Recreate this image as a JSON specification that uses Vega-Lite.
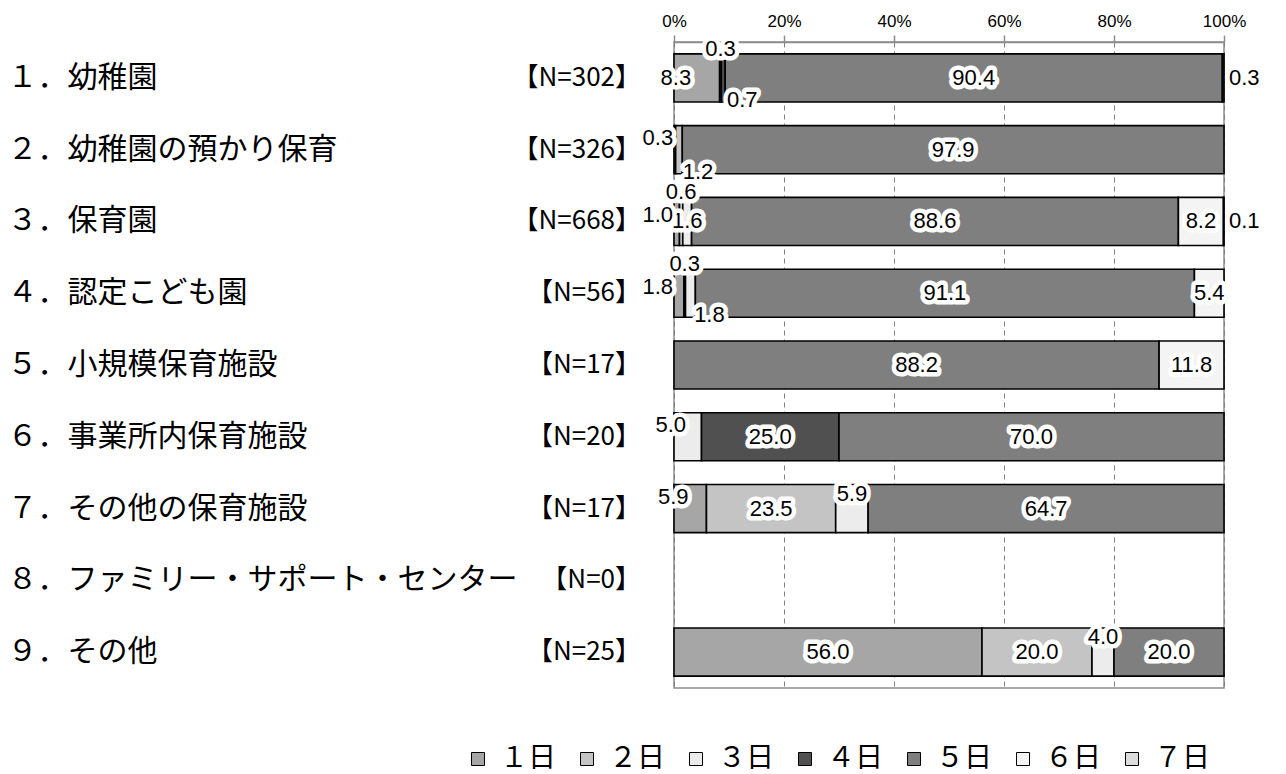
{
  "$schema": "https://vega.github.io/schema/vega-lite/v6.json",
  "width": 550,
  "height": 646,
  "autosize": {"type": "none"},
  "padding": {"left": 674, "top": 42, "right": 62, "bottom": 86},
  "background": "white",
  "config": {
    "view": {"stroke": "#8c8c8c", "strokeWidth": 1.5},
    "font": "Noto Sans CJK JP",
    "text": {"font": "Liberation Sans", "fontSize": 22, "baseline": "middle"},
    "style": {"guide-label": {"font": "Liberation Sans", "fontSize": 17, "fill": "black"}},
    "axis": {"labelFontSize": 17, "labelFont": "Liberation Sans", "labelColor": "black"},
    "axisX": {
      "grid": true,
      "gridDash": [5, 4],
      "gridColor": "#808080",
      "gridWidth": 1,
      "domainColor": "#8c8c8c",
      "domainWidth": 1.5,
      "tickColor": "#8c8c8c",
      "tickSize": 7,
      "tickWidth": 1.5,
      "labelPadding": 5,
      "labelFlush": false,
      "labelFont": "Liberation Sans",
      "labelFontSize": 17,
      "labelColor": "black"
    }
  },
  "datasets": {
    "rows": [
      {"no": 1, "item": "１．幼稚園", "n": "【N=302】"},
      {"no": 2, "item": "２．幼稚園の預かり保育", "n": "【N=326】"},
      {"no": 3, "item": "３．保育園", "n": "【N=668】"},
      {"no": 4, "item": "４．認定こども園", "n": "【N=56】"},
      {"no": 5, "item": "５．小規模保育施設", "n": "【N=17】"},
      {"no": 6, "item": "６．事業所内保育施設", "n": "【N=20】"},
      {"no": 7, "item": "７．その他の保育施設", "n": "【N=17】"},
      {"no": 8, "item": "８．ファミリー・サポート・センター", "n": "【N=0】"},
      {"no": 9, "item": "９．その他", "n": "【N=25】"}
    ],
    "bars": [
      {"no": 1, "item": "１．幼稚園", "cat": "１日", "value": 8.3},
      {"no": 1, "item": "１．幼稚園", "cat": "３日", "value": 0.3},
      {"no": 1, "item": "１．幼稚園", "cat": "４日", "value": 0.7},
      {"no": 1, "item": "１．幼稚園", "cat": "５日", "value": 90.4},
      {"no": 1, "item": "１．幼稚園", "cat": "６日", "value": 0.3},
      {"no": 2, "item": "２．幼稚園の預かり保育", "cat": "１日", "value": 0.3},
      {"no": 2, "item": "２．幼稚園の預かり保育", "cat": "２日", "value": 1.2},
      {"no": 2, "item": "２．幼稚園の預かり保育", "cat": "５日", "value": 97.9},
      {"no": 3, "item": "３．保育園", "cat": "１日", "value": 1.0},
      {"no": 3, "item": "３．保育園", "cat": "２日", "value": 0.6},
      {"no": 3, "item": "３．保育園", "cat": "３日", "value": 1.6},
      {"no": 3, "item": "３．保育園", "cat": "５日", "value": 88.6},
      {"no": 3, "item": "３．保育園", "cat": "６日", "value": 8.2},
      {"no": 3, "item": "３．保育園", "cat": "７日", "value": 0.1},
      {"no": 4, "item": "４．認定こども園", "cat": "１日", "value": 1.8},
      {"no": 4, "item": "４．認定こども園", "cat": "２日", "value": 0.3},
      {"no": 4, "item": "４．認定こども園", "cat": "３日", "value": 1.8},
      {"no": 4, "item": "４．認定こども園", "cat": "５日", "value": 91.1},
      {"no": 4, "item": "４．認定こども園", "cat": "６日", "value": 5.4},
      {"no": 5, "item": "５．小規模保育施設", "cat": "５日", "value": 88.2},
      {"no": 5, "item": "５．小規模保育施設", "cat": "６日", "value": 11.8},
      {"no": 6, "item": "６．事業所内保育施設", "cat": "３日", "value": 5.0},
      {"no": 6, "item": "６．事業所内保育施設", "cat": "４日", "value": 25.0},
      {"no": 6, "item": "６．事業所内保育施設", "cat": "５日", "value": 70.0},
      {"no": 7, "item": "７．その他の保育施設", "cat": "１日", "value": 5.9},
      {"no": 7, "item": "７．その他の保育施設", "cat": "２日", "value": 23.5},
      {"no": 7, "item": "７．その他の保育施設", "cat": "３日", "value": 5.9},
      {"no": 7, "item": "７．その他の保育施設", "cat": "５日", "value": 64.7},
      {"no": 9, "item": "９．その他", "cat": "１日", "value": 56.0},
      {"no": 9, "item": "９．その他", "cat": "２日", "value": 20.0},
      {"no": 9, "item": "９．その他", "cat": "３日", "value": 4.0},
      {"no": 9, "item": "９．その他", "cat": "５日", "value": 20.0}
    ]
  },
  "encoding": {
    "y": {
      "field": "item",
      "type": "nominal",
      "sort": null,
      "title": null,
      "scale": {
        "domain": ["１．幼稚園", "２．幼稚園の預かり保育", "３．保育園", "４．認定こども園", "５．小規模保育施設", "６．事業所内保育施設", "７．その他の保育施設", "８．ファミリー・サポート・センター", "９．その他"],
        "paddingInner": 0.33,
        "paddingOuter": 0.165
      },
      "axis": {
        "labelAlign": "left",
        "labelPadding": 667,
        "ticks": false,
        "domain": false,
        "grid": false,
        "labelFont": "Noto Sans CJK JP",
        "labelFontSize": 30,
        "labelColor": "black",
        "labelLimit": 800,
        "labelBaseline": "middle"
      }
    }
  },
  "layer": [
    {
      "data": {"name": "rows"},
      "mark": {"type": "text", "align": "right", "baseline": "middle", "dx": -33, "font": "Noto Sans CJK JP", "fontSize": 26, "fill": "black"},
      "encoding": {
        "x": {"datum": 0, "type": "quantitative", "title": null, "scale": {"domain": [0, 1]}, "axis": {"orient": "top", "values": [0, 0.2, 0.4, 0.6, 0.8, 1], "format": ".0%"}},
        "text": {"field": "n"}
      }
    },
    {
      "data": {"name": "bars"},
      "transform": [
        {"stack": "value", "groupby": ["no"], "sort": [{"field": "cat", "order": "ascending"}], "offset": "normalize", "as": ["s0", "s1"]}
      ],
      "layer": [
        {
          "mark": {"type": "bar", "stroke": "black", "strokeWidth": 1.6},
          "encoding": {
            "x": {"field": "s0", "type": "quantitative", "title": null, "axis": {"orient": "top", "values": [0, 0.2, 0.4, 0.6, 0.8, 1], "format": ".0%"}},
            "x2": {"field": "s1"},
            "color": {
              "field": "cat",
              "type": "nominal",
              "scale": {
                "domain": ["１日", "２日", "３日", "４日", "５日", "６日", "７日"],
                "range": ["#a6a6a6", "#c4c4c4", "#ececec", "#505050", "#7f7f7f", "#f4f4f4", "#dcdcdc"]
              },
              "legend": {
                "orient": "none",
                "legendX": -210,
                "legendY": 703,
                "direction": "horizontal",
                "columns": 7,
                "title": null,
                "symbolType": "square",
                "symbolSize": 169,
                "symbolStrokeColor": "black",
                "symbolStrokeWidth": 1,
                "labelFont": "Noto Sans CJK JP",
                "labelFontSize": 28,
                "labelOffset": 8,
                "columnPadding": 16,
                "labelColor": "black"
              }
            }
          }
        },
        {
          "transform": [
            {"fold": ["s0", "s1"], "as": ["edge_name", "edge"]},
            {"aggregate": [{"op": "mean", "field": "edge", "as": "mid"}], "groupby": ["no", "item", "cat", "value", "s0", "s1"]}
          ],
          "encoding": {
            "text": {"field": "value", "type": "quantitative", "format": ".1f"}
          },
          "layer": [
            {
              "transform": [{"filter": "indexof(['1_１日','1_３日','1_４日','1_６日','2_１日','2_２日','3_１日','3_２日','3_７日','4_１日','4_２日','4_３日','6_３日','7_１日','7_３日','9_３日'], datum.no + '_' + datum.cat) < 0"}],
              "encoding": {"x": {"field": "mid", "type": "quantitative", "title": null, "axis": {"orient": "top", "values": [0, 0.2, 0.4, 0.6, 0.8, 1], "format": ".0%"}}},
              "layer": [
                {"mark": {"type": "text", "align": "center", "fill": "white", "stroke": "white", "strokeWidth": 9, "strokeJoin": "round"}},
                {"mark": {"type": "text", "align": "center", "fill": "black"}}
              ]
            },
            {
              "transform": [{"filter": "indexof(['1_１日'], datum.no + '_' + datum.cat) >= 0"}],
              "encoding": {"x": {"field": "mid", "type": "quantitative", "title": null, "axis": {"orient": "top", "values": [0, 0.2, 0.4, 0.6, 0.8, 1], "format": ".0%"}}},
              "layer": [
                {"mark": {"type": "text", "align": "center", "dx": -21, "fill": "white", "stroke": "white", "strokeWidth": 9, "strokeJoin": "round"}},
                {"mark": {"type": "text", "align": "center", "dx": -21, "fill": "black"}}
              ]
            },
            {
              "transform": [{"filter": "indexof(['3_１日','4_１日'], datum.no + '_' + datum.cat) >= 0"}],
              "encoding": {"x": {"field": "s0", "type": "quantitative", "title": null, "axis": {"orient": "top", "values": [0, 0.2, 0.4, 0.6, 0.8, 1], "format": ".0%"}}},
              "layer": [
                {"mark": {"type": "text", "align": "right", "dx": -1, "dy": -6, "fill": "white", "stroke": "white", "strokeWidth": 9, "strokeJoin": "round"}},
                {"mark": {"type": "text", "align": "right", "dx": -1, "dy": -6, "fill": "black"}}
              ]
            },
            {
              "transform": [{"filter": "indexof(['1_６日','3_７日'], datum.no + '_' + datum.cat) >= 0"}],
              "encoding": {"x": {"field": "s1", "type": "quantitative", "title": null, "axis": {"orient": "top", "values": [0, 0.2, 0.4, 0.6, 0.8, 1], "format": ".0%"}}},
              "layer": [
                {"mark": {"type": "text", "align": "left", "dx": 5, "fill": "white", "stroke": "white", "strokeWidth": 9, "strokeJoin": "round"}},
                {"mark": {"type": "text", "align": "left", "dx": 5, "fill": "black"}}
              ]
            },
            {
              "transform": [{"filter": "indexof(['2_１日','6_３日','7_１日'], datum.no + '_' + datum.cat) >= 0"}],
              "encoding": {"x": {"field": "mid", "type": "quantitative", "title": null, "axis": {"orient": "top", "values": [0, 0.2, 0.4, 0.6, 0.8, 1], "format": ".0%"}}},
              "layer": [
                {"mark": {"type": "text", "align": "center", "dx": -17, "dy": -12, "fill": "white", "stroke": "white", "strokeWidth": 9, "strokeJoin": "round"}},
                {"mark": {"type": "text", "align": "center", "dx": -17, "dy": -12, "fill": "black"}}
              ]
            },
            {
              "transform": [{"filter": "indexof(['1_３日','3_２日','4_２日'], datum.no + '_' + datum.cat) >= 0"}],
              "encoding": {"x": {"field": "mid", "type": "quantitative", "title": null, "axis": {"orient": "top", "values": [0, 0.2, 0.4, 0.6, 0.8, 1], "format": ".0%"}}},
              "layer": [
                {"mark": {"type": "text", "align": "center", "dy": -29, "fill": "white", "stroke": "white", "strokeWidth": 9, "strokeJoin": "round"}},
                {"mark": {"type": "text", "align": "center", "dy": -29, "fill": "black"}}
              ]
            },
            {
              "transform": [{"filter": "indexof(['1_４日','2_２日','4_３日'], datum.no + '_' + datum.cat) >= 0"}],
              "encoding": {"x": {"field": "mid", "type": "quantitative", "title": null, "axis": {"orient": "top", "values": [0, 0.2, 0.4, 0.6, 0.8, 1], "format": ".0%"}}},
              "layer": [
                {"mark": {"type": "text", "align": "center", "dx": 19, "dy": 22, "fill": "white", "stroke": "white", "strokeWidth": 9, "strokeJoin": "round"}},
                {"mark": {"type": "text", "align": "center", "dx": 19, "dy": 22, "fill": "black"}}
              ]
            },
            {
              "transform": [{"filter": "indexof(['7_３日','9_３日'], datum.no + '_' + datum.cat) >= 0"}],
              "encoding": {"x": {"field": "mid", "type": "quantitative", "title": null, "axis": {"orient": "top", "values": [0, 0.2, 0.4, 0.6, 0.8, 1], "format": ".0%"}}},
              "layer": [
                {"mark": {"type": "text", "align": "center", "dy": -15, "fill": "white", "stroke": "white", "strokeWidth": 9, "strokeJoin": "round"}},
                {"mark": {"type": "text", "align": "center", "dy": -15, "fill": "black"}}
              ]
            }
          ]
        }
      ]
    }
  ]
}
